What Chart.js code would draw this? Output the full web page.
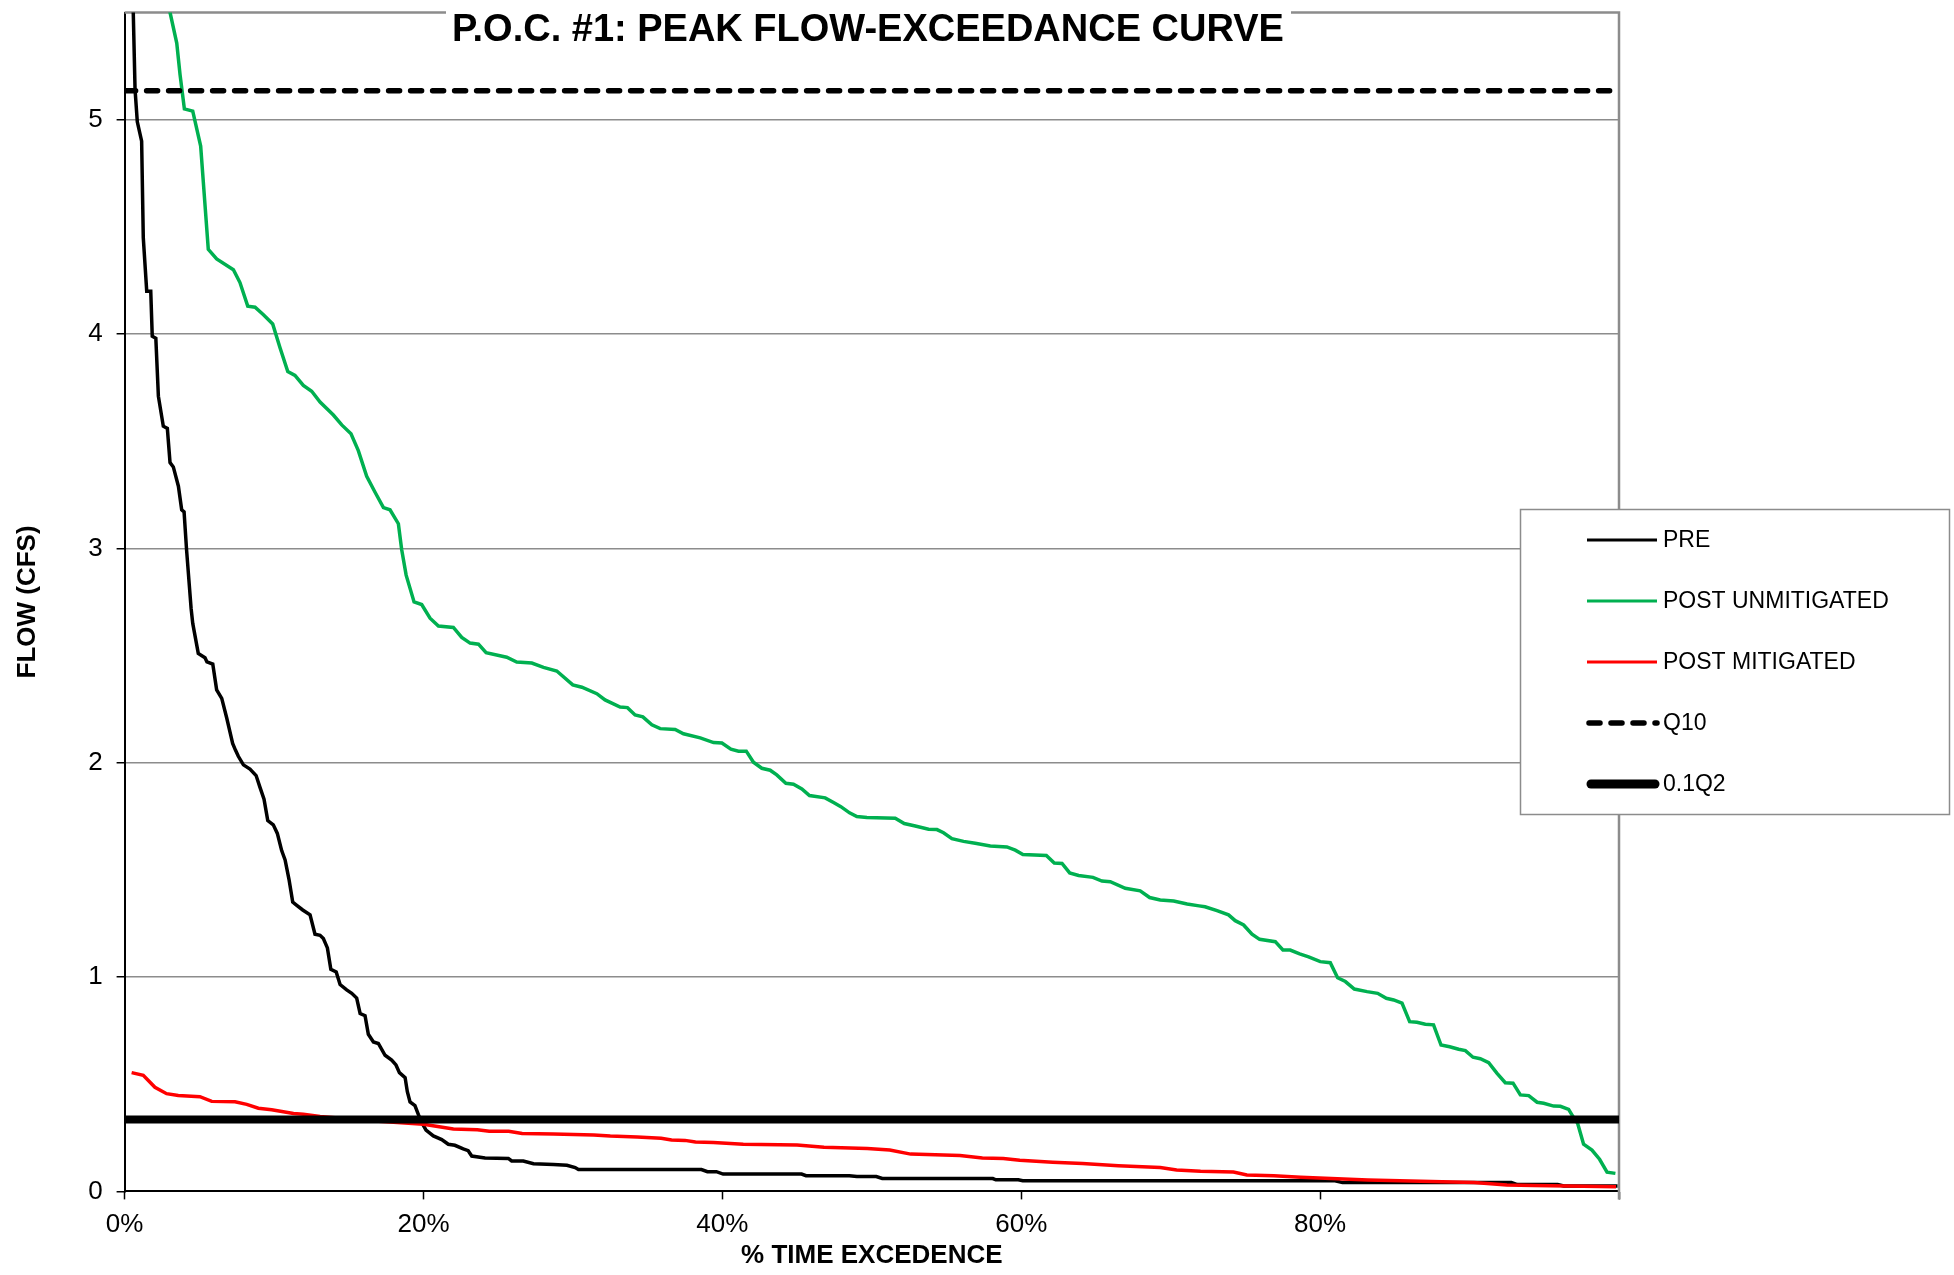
<!DOCTYPE html>
<html lang="en">
<head>
    <meta charset="UTF-8">
    <title>P.O.C. #1: Peak Flow-Exceedance Curve</title>
    <script src="https://cdn.jsdelivr.net/npm/chart.js@4.4.1/dist/chart.umd.min.js"></script>
    <style>
        body { margin: 0; background: #fff; }
        #wrap { width: 1954px; height: 1275px; }
    </style>
</head>
<body>
    <div id="wrap"><canvas id="flowChart" width="1954" height="1275"></canvas></div>

    <script>
        // [% time exceeded, flow cfs]
        const preCurve = [
            [0.3, 6.4], [0.58, 5.5], [0.70, 5.14], [0.85, 4.99], [1.14, 4.90], [1.25, 4.45], [1.48, 4.20],
            [1.75, 4.20], [1.85, 3.99], [2.09, 3.98], [2.26, 3.71], [2.59, 3.57], [2.86, 3.56], [3.04, 3.40],
            [3.26, 3.38], [3.6, 3.29], [3.82, 3.18], [3.98, 3.17], [4.15, 2.99], [4.45, 2.72], [4.56, 2.65],
            [4.93, 2.51], [5.38, 2.49], [5.51, 2.47], [5.9, 2.46], [6.16, 2.34], [6.5, 2.30], [6.83, 2.21],
            [7.23, 2.09], [7.41, 2.06], [7.61, 2.03], [7.95, 1.99], [8.39, 1.97], [8.8, 1.94], [9.06, 1.885],
            [9.33, 1.83], [9.58, 1.73], [9.95, 1.71], [10.22, 1.67], [10.51, 1.59], [10.74, 1.546], [11.0, 1.456],
            [11.25, 1.35], [11.5, 1.336], [11.92, 1.313], [12.41, 1.29], [12.74, 1.20], [13.08, 1.195], [13.3, 1.18],
            [13.57, 1.136], [13.8, 1.036], [14.16, 1.024], [14.42, 0.965], [14.86, 0.94], [15.2, 0.924],
            [15.53, 0.902], [15.76, 0.83], [16.09, 0.82], [16.31, 0.733], [16.65, 0.697], [16.98, 0.69],
            [17.43, 0.635], [17.87, 0.613], [18.16, 0.59], [18.39, 0.554], [18.77, 0.531], [18.92, 0.465],
            [19.1, 0.417], [19.43, 0.40], [19.66, 0.358], [19.88, 0.322], [20.17, 0.286], [20.66, 0.259],
            [21.22, 0.242], [21.66, 0.22], [22.1, 0.215], [22.66, 0.198], [22.99, 0.19], [23.23, 0.165],
            [24.12, 0.156], [25.68, 0.154], [25.9, 0.142], [26.68, 0.142], [27.36, 0.129], [28.7, 0.125],
            [29.6, 0.122], [30.15, 0.111], [30.37, 0.102], [38.6, 0.102], [39.0, 0.092], [39.6, 0.092],
            [40.05, 0.081], [45.3, 0.081], [45.6, 0.073], [48.5, 0.073], [49.0, 0.069], [50.3, 0.069],
            [50.7, 0.06], [58.1, 0.06], [58.3, 0.054], [59.8, 0.054], [60.1, 0.05], [81.0, 0.05],
            [81.5, 0.041], [92.8, 0.041], [93.2, 0.032], [95.9, 0.032], [96.3, 0.025], [99.9, 0.025]
        ];

        const postUnmitigatedCurve = [
            [2.6, 5.75], [3.04, 5.5], [3.49, 5.357], [3.71, 5.21], [4.0, 5.05], [4.56, 5.04], [5.09, 4.877],
            [5.6, 4.395], [6.16, 4.35], [7.28, 4.30], [7.72, 4.24], [8.24, 4.13], [8.73, 4.125], [9.29, 4.09],
            [9.91, 4.047], [10.4, 3.936], [10.92, 3.825], [11.4, 3.807], [11.96, 3.76], [12.52, 3.733],
            [13.08, 3.683], [13.97, 3.622], [14.53, 3.576], [15.15, 3.535], [15.64, 3.456], [16.2, 3.336],
            [16.76, 3.262], [17.32, 3.19], [17.76, 3.18], [18.32, 3.115], [18.54, 2.995], [18.84, 2.875],
            [19.37, 2.75], [19.88, 2.738], [20.44, 2.674], [21.0, 2.638], [22.0, 2.631], [22.56, 2.585],
            [23.12, 2.558], [23.68, 2.553], [24.19, 2.513], [25.57, 2.492], [26.24, 2.47], [27.25, 2.465],
            [28.03, 2.445], [28.92, 2.428], [29.99, 2.363], [30.6, 2.352], [31.6, 2.322], [32.15, 2.293],
            [33.16, 2.26], [33.65, 2.257], [34.16, 2.223], [34.68, 2.214], [35.28, 2.177], [35.84, 2.159],
            [36.84, 2.155], [37.4, 2.135], [38.52, 2.116], [39.41, 2.094], [39.97, 2.092], [40.57, 2.063],
            [41.08, 2.054], [41.6, 2.054], [42.08, 2.002], [42.64, 1.974], [43.2, 1.965], [43.64, 1.943],
            [44.25, 1.904], [44.76, 1.9], [45.32, 1.878], [45.83, 1.847], [46.88, 1.836], [47.44, 1.814],
            [47.93, 1.795], [48.51, 1.766], [49.0, 1.749], [49.67, 1.744], [51.57, 1.741], [52.17, 1.716],
            [52.91, 1.705], [53.8, 1.69], [54.36, 1.688], [54.8, 1.673], [55.36, 1.646], [56.14, 1.633],
            [56.92, 1.624], [57.93, 1.611], [59.04, 1.607], [59.6, 1.592], [60.11, 1.572], [61.68, 1.567],
            [62.21, 1.532], [62.73, 1.53], [63.24, 1.486], [63.84, 1.474], [64.8, 1.465], [65.4, 1.448],
            [65.96, 1.445], [66.96, 1.414], [67.96, 1.402], [68.59, 1.371], [69.3, 1.36], [70.2, 1.355],
            [71.1, 1.341], [71.9, 1.332], [72.3, 1.328], [73.1, 1.31], [73.87, 1.29], [74.32, 1.263],
            [74.88, 1.243], [75.44, 1.2], [75.95, 1.176], [77.0, 1.165], [77.51, 1.126], [78.0, 1.126],
            [78.63, 1.108], [79.23, 1.094], [80.01, 1.072], [80.68, 1.067], [81.17, 0.997], [81.69, 0.979],
            [82.29, 0.944], [83.14, 0.932], [83.85, 0.924], [84.43, 0.901], [84.92, 0.893], [85.48, 0.878],
            [85.99, 0.792], [86.48, 0.789], [87.04, 0.78], [87.59, 0.777], [88.09, 0.683], [88.67, 0.675],
            [89.27, 0.663], [89.72, 0.657], [90.23, 0.626], [90.72, 0.619], [91.28, 0.601], [91.84, 0.551],
            [92.39, 0.507], [92.91, 0.505], [93.4, 0.45], [93.96, 0.447], [94.52, 0.416], [94.96, 0.411],
            [95.63, 0.398], [96.08, 0.397], [96.63, 0.383], [96.92, 0.349], [97.23, 0.318], [97.63, 0.22],
            [98.19, 0.193], [98.7, 0.15], [99.2, 0.09], [99.76, 0.084]
        ];

        const postMitigatedCurve = [
            [0.47, 0.554], [1.25, 0.542], [2.03, 0.486], [2.81, 0.456], [3.59, 0.447], [5.04, 0.442],
            [5.83, 0.42], [7.39, 0.418], [8.17, 0.406], [8.95, 0.388], [9.84, 0.381], [11.3, 0.363],
            [11.96, 0.36], [13.08, 0.349], [16.5, 0.33], [20.0, 0.313], [22.0, 0.291], [23.6, 0.288],
            [24.4, 0.281], [25.7, 0.281], [26.6, 0.27], [28.7, 0.268], [31.4, 0.263], [32.5, 0.258],
            [34.3, 0.254], [35.9, 0.248], [36.6, 0.24], [37.5, 0.238], [38.2, 0.23], [39.4, 0.228],
            [41.4, 0.22], [45.0, 0.217], [46.8, 0.206], [49.7, 0.2], [51.2, 0.193], [52.6, 0.174],
            [55.9, 0.168], [57.4, 0.156], [58.8, 0.154], [59.9, 0.145], [62.1, 0.136], [64.1, 0.13],
            [66.5, 0.12], [69.3, 0.111], [70.4, 0.1], [72.0, 0.094], [74.2, 0.09], [75.1, 0.077],
            [76.9, 0.073], [78.7, 0.066], [83.2, 0.053], [90.3, 0.041], [92.5, 0.03], [94.3, 0.027],
            [99.8, 0.022]
        ];

        const xRange = [0, 100];
        const q10Flow = 5.135;
        const tenthQ2Flow = 0.335;

        const seriesNames = ['PRE', 'POST UNMITIGATED', 'POST MITIGATED', 'Q10', '0.1Q2'];
        const xTicks = [0, 20, 40, 60, 80, 100];
        const yTicks = [0, 1, 2, 3, 4, 5];

        const FONT = "'Liberation Sans', Arial, sans-serif";

        function toPoints(pairs) {
            return pairs.map(p => ({ x: p[0], y: p[1] }));
        }

        // gray top / right frame of the plot area
        const frame = {
            id: 'frame',
            beforeDatasetsDraw(chart) {
                const a = chart.chartArea, c = chart.ctx;
                c.save();
                c.strokeStyle = '#8c8c8c';
                c.lineWidth = 2.5;
                c.beginPath();
                c.moveTo(a.left, a.top);
                c.lineTo(a.right, a.top);
                c.lineTo(a.right, a.bottom + 8);
                c.stroke();
                c.restore();
            }
        };

        // title sits on top of the frame line, Excel style
        const topTitle = {
            id: 'topTitle',
            afterDraw(chart) {
                const c = chart.ctx;
                c.save();
                c.fillStyle = '#fff';
                c.fillRect(446, 0, 845, 48);
                c.fillStyle = '#000';
                c.font = 'bold 38px ' + FONT;
                c.textAlign = 'center';
                c.textBaseline = 'alphabetic';
                c.fillText('P.O.C. #1: PEAK FLOW-EXCEEDANCE CURVE', 868, 41);
                c.restore();
            }
        };

        const boxLegend = {
            id: 'boxLegend',
            afterDraw(chart) {
                const c = chart.ctx;
                const bx = 1520.5, by = 509.5, bw = 429, bh = 305;
                c.save();
                c.fillStyle = '#fff';
                c.fillRect(bx, by, bw, bh);
                c.strokeStyle = '#8c8c8c';
                c.lineWidth = 1.5;
                c.strokeRect(bx, by, bw, bh);
                c.font = '23px ' + FONT;
                c.textBaseline = 'middle';
                c.textAlign = 'left';
                chart.data.datasets.forEach((ds, i) => {
                    const y = 540 + i * 61;
                    c.strokeStyle = ds.borderColor;
                    c.lineWidth = ds.legendWidth;
                    c.lineCap = ds.borderCapStyle || 'butt';
                    c.setLineDash(ds.borderDash || []);
                    c.beginPath();
                    if (ds.borderDash) {
                        c.moveTo(1589, y);
                        c.lineTo(1657, y);
                    } else if (ds.legendWidth > 5) {
                        c.moveTo(1591, y);
                        c.lineTo(1655, y);
                    } else {
                        c.moveTo(1587, y);
                        c.lineTo(1657, y);
                    }
                    c.stroke();
                    c.setLineDash([]);
                    c.fillStyle = '#000';
                    c.fillText(ds.label, 1663, y + 1);
                });
                c.restore();
            }
        };

        function createChart() {
            const ctx = document.getElementById('flowChart').getContext('2d');
            new Chart(ctx, {
                type: 'line',
                data: {
                    datasets: [
                        {
                            label: seriesNames[0],
                            data: toPoints(preCurve),
                            borderColor: '#000000',
                            borderWidth: 3.5,
                            legendWidth: 3,
                            order: 5,
                            clip: 0
                        },
                        {
                            label: seriesNames[1],
                            data: toPoints(postUnmitigatedCurve),
                            borderColor: '#00b050',
                            borderWidth: 3.5,
                            legendWidth: 3,
                            order: 4,
                            clip: 0
                        },
                        {
                            label: seriesNames[2],
                            data: toPoints(postMitigatedCurve),
                            borderColor: '#ff0000',
                            borderWidth: 3.5,
                            legendWidth: 3,
                            order: 3
                        },
                        {
                            label: seriesNames[3],
                            data: xRange.map(x => ({ x: x, y: q10Flow })),
                            borderColor: '#000000',
                            borderWidth: 5.5,
                            legendWidth: 5.5,
                            borderDash: [11, 11],
                            borderCapStyle: 'round',
                            order: 2
                        },
                        {
                            label: seriesNames[4],
                            data: xRange.map(x => ({ x: x, y: tenthQ2Flow })),
                            borderColor: '#000000',
                            borderWidth: 8,
                            legendWidth: 9,
                            borderCapStyle: 'round',
                            order: 1
                        }
                    ]
                },
                options: {
                    responsive: false,
                    animation: false,
                    layout: { padding: { left: 0, top: 12.5, right: 335, bottom: 0 } },
                    elements: { point: { radius: 0 }, line: { tension: 0 } },
                    scales: {
                        x: {
                            type: 'linear',
                            min: xRange[0],
                            max: xRange[1],
                            afterBuildTicks(s) { s.ticks = xTicks.map(v => ({ value: v })); },
                            afterFit(s) { s.height = 83.6; s.paddingLeft = 0; s.paddingRight = 0; },
                            ticks: {
                                autoSkip: false,
                                maxRotation: 0,
                                padding: 10,
                                color: '#000',
                                font: { family: FONT, size: 26 },
                                callback: v => v === 100 ? '' : v + '%'
                            },
                            grid: {
                                drawOnChartArea: false,
                                drawTicks: true,
                                tickLength: 8,
                                tickColor: '#000',
                                tickWidth: 1.5
                            },
                            border: { color: '#000', width: 2 },
                            title: {
                                display: true,
                                text: '% TIME EXCEDENCE',
                                color: '#000',
                                font: { family: FONT, size: 26, weight: 'bold' },
                                padding: { top: 0, bottom: 4 }
                            }
                        },
                        y: {
                            min: 0,
                            max: 5.5,
                            afterBuildTicks(s) { s.ticks = yTicks.map(v => ({ value: v })); },
                            afterFit(s) { s.width = 124.6; s.paddingTop = 0; s.paddingBottom = 0; },
                            ticks: {
                                padding: 14,
                                color: '#000',
                                font: { family: FONT, size: 26 }
                            },
                            grid: {
                                color: c => (c.tick && c.tick.value === 0) ? 'rgba(0,0,0,0)' : '#8c8c8c',
                                lineWidth: 1.5,
                                tickLength: 8,
                                tickColor: '#000',
                                tickWidth: 1.5
                            },
                            border: { color: '#000', width: 2 },
                            title: {
                                display: true,
                                text: 'FLOW (CFS)',
                                color: '#000',
                                font: { family: FONT, size: 26, weight: 'bold' },
                                padding: { top: 12, bottom: 0 }
                            }
                        }
                    },
                    plugins: {
                        legend: { display: false },
                        title: { display: false },
                        tooltip: { enabled: false }
                    }
                },
                plugins: [frame, topTitle, boxLegend]
            });
        }

        createChart();
    </script>
</body>
</html>
